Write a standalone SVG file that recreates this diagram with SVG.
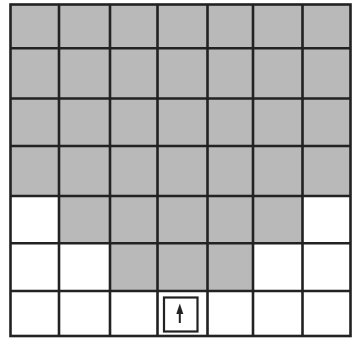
<svg xmlns="http://www.w3.org/2000/svg" width="356" height="339" viewBox="0 0 356 339">
<style>
.g{fill:#b9b9b9}
.ln{stroke:#222;stroke-width:2.6;fill:none}
</style>
<rect width="356" height="339" fill="#fff"/>
<g id="shading">
<rect class="g" x="10.5" y="4.5" width="340" height="191.5"/>
<rect class="g" x="59" y="196" width="243.5" height="47.3"/>
<rect class="g" x="110" y="243.3" width="143" height="47.7"/>
</g>
<g id="grid" class="ln">
<rect x="10.5" y="4.5" width="340" height="331.5"/>
<path d="M59 4.5V336M110 4.5V336M157.5 4.5V336M207.5 4.5V336M253 4.5V336M302.5 4.5V336"/>
<path d="M10.5 48.3H350.5M10.5 98.5H350.5M10.5 146H350.5M10.5 196H350.5M10.5 243.3H350.5M10.5 291H350.5"/>
</g>
<g id="arrow-box">
<rect x="164" y="297.5" width="33.5" height="34" fill="none" stroke="#222" stroke-width="2.2"/>
<path d="M179.8 312V323" stroke="#222" stroke-width="2"/>
<path d="M179.8 303.5L183.3 314H176.3Z" fill="#222"/>
</g>
</svg>
